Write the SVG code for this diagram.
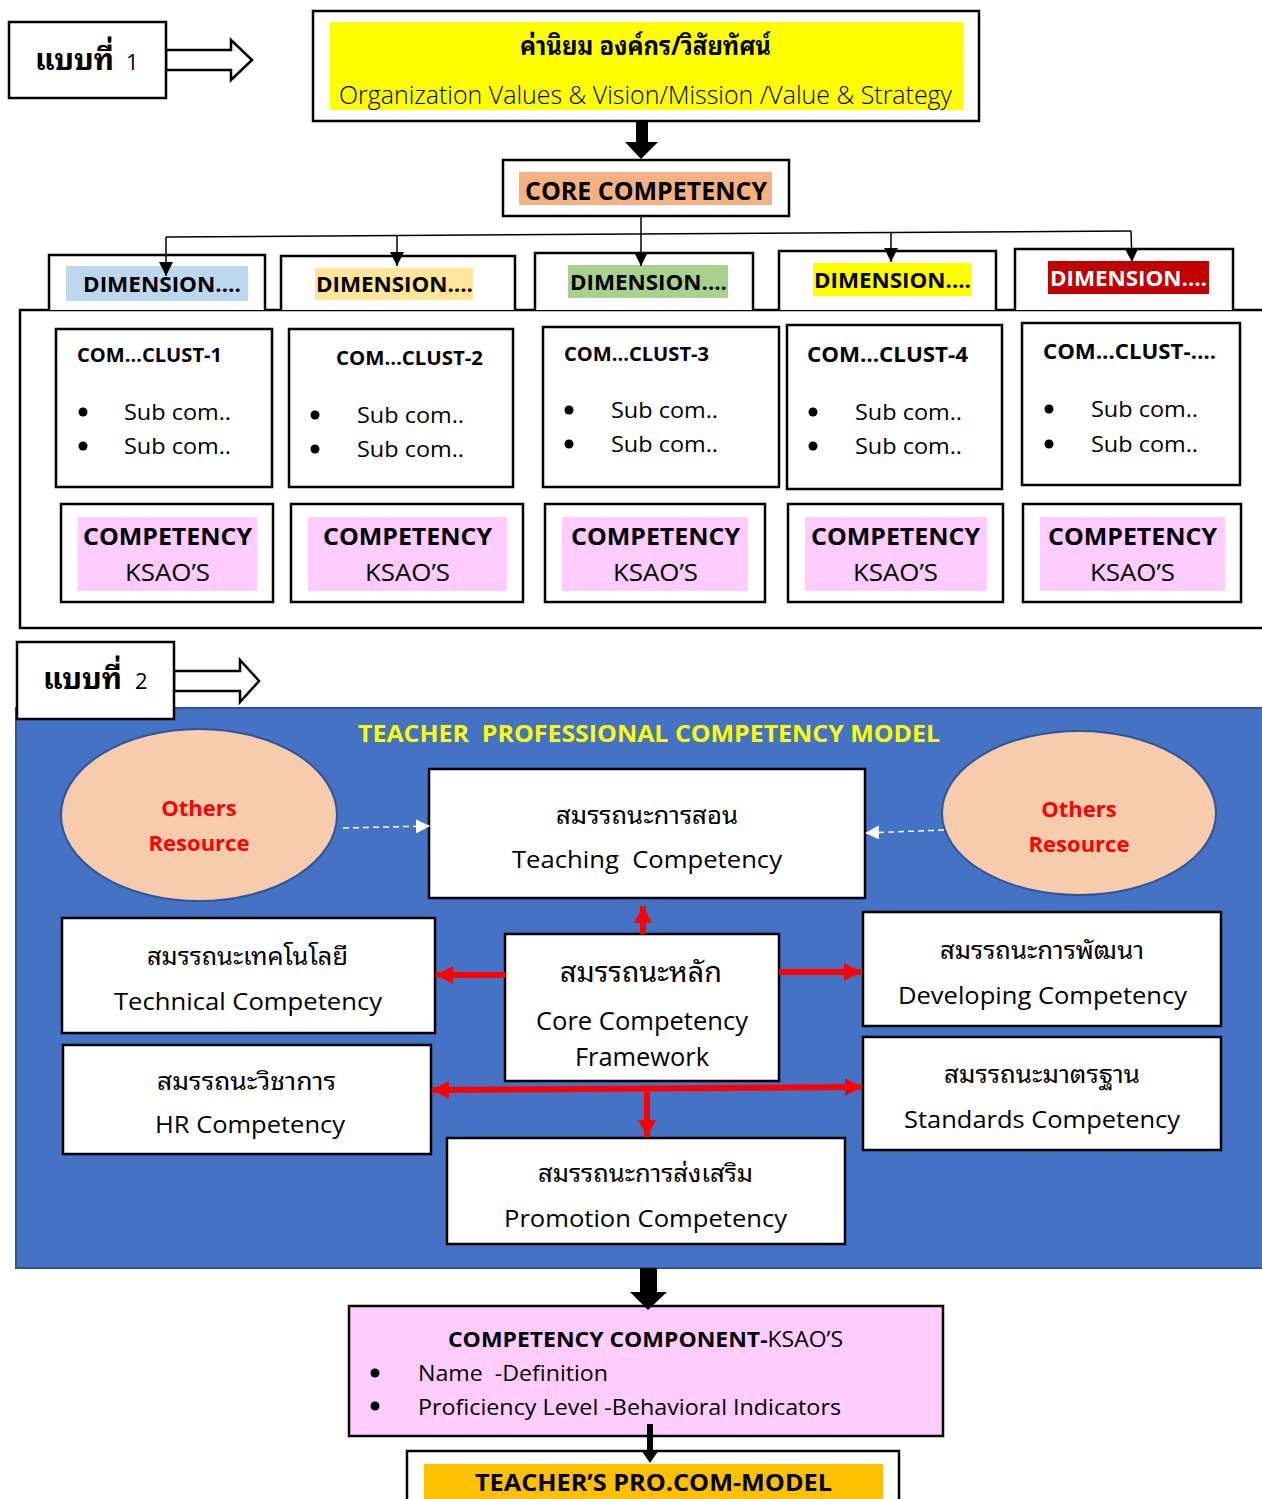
<svg xmlns="http://www.w3.org/2000/svg" width="1262" height="1499" viewBox="0 0 1262 1499">
<style>
.box{fill:#fff;stroke:#000;stroke-width:2.5}
.en{font-family:"Open Sans","Noto Sans","Liberation Sans",sans-serif;fill:#000}
.b{font-weight:bold}
.th{font-family:"Noto Sans Thai Looped","Loma","Tahoma","Noto Sans Thai","Noto Sans","DejaVu Sans",sans-serif;fill:#000}
.pre{white-space:pre}
.thin{stroke:#000;stroke-width:1.5;fill:none}
.red{stroke:#ff0000;stroke-width:6;fill:none}
.dash{stroke:#fff;stroke-width:1.5;stroke-dasharray:6,4;fill:none}
.ell{fill:#F8CBAD;stroke:#2F5597;stroke-width:2}
.oth{font-family:"Open Sans","Noto Sans",sans-serif;font-weight:bold;fill:#ff0000;font-size:22px}
</style>
<defs>
<marker id="ab2" viewBox="0 0 10 10" refX="10" refY="5" markerWidth="14" markerHeight="14" markerUnits="userSpaceOnUse" orient="auto"><path d="M0,0L10,5L0,10z" fill="#000"/></marker>
<marker id="ar" viewBox="0 0 10 10" refX="10" refY="5" markerWidth="17" markerHeight="18" markerUnits="userSpaceOnUse" orient="auto-start-reverse" preserveAspectRatio="none"><path d="M0,0L10,5L0,10z" fill="#ff0000"/></marker>
<marker id="aw" viewBox="0 0 10 10" refX="10" refY="5" markerWidth="14" markerHeight="14" markerUnits="userSpaceOnUse" orient="auto"><path d="M0,0L10,5L0,10z" fill="#fff"/></marker>
</defs>

<!-- Section 1 -->
<g id="label1">
<polygon points="166,50 231,50 231,40 252,60 231,80 231,70 166,70" fill="#fff" stroke="#000" stroke-width="2.5"/>
<rect class="box" x="9" y="22" width="157" height="76"/>
<text class="th b" x="35" y="70" font-size="30" textLength="79" lengthAdjust="spacingAndGlyphs">แบบที่</text>
<text class="en" x="126" y="70" font-size="22">1</text>
</g>

<g id="org">
<rect class="box" x="313" y="11" width="666" height="110"/>
<rect x="330" y="22" width="633" height="88" fill="#ffff00"/>
<text class="th b" x="520" y="55" font-size="26" textLength="251" lengthAdjust="spacingAndGlyphs">ค่านิยม องค์กร/วิสัยทัศน์</text>
<text class="en" x="339" y="104" font-size="25" font-weight="300" textLength="613" lengthAdjust="spacingAndGlyphs">Organization Values &amp; Vision/Mission /Value &amp; Strategy</text>
</g>

<g id="core">
<rect class="box" x="503" y="160" width="286" height="56"/>
<rect x="519" y="172" width="253" height="33" fill="#F4B183"/>
<text class="en b" x="525" y="200" font-size="25" textLength="242" lengthAdjust="spacingAndGlyphs">CORE COMPETENCY</text>
</g>

<g id="container1">
<rect x="20" y="310" width="1260" height="318" fill="#fff" stroke="#000" stroke-width="2.5"/>
</g>

<g id="dim1">
<path class="box" d="M49,310V255H265V310"/>
<rect x="66" y="266" width="182" height="35" fill="#BDD7EE"/>
<text class="en b" x="83" y="292" font-size="21" textLength="158" lengthAdjust="spacingAndGlyphs">DIMENSION….</text>
</g>
<g id="dim2">
<path class="box" d="M281,310V256H515V310"/>
<rect x="315" y="268" width="158" height="32" fill="#FFE699"/>
<text class="en b" x="316" y="292" font-size="21" textLength="157" lengthAdjust="spacingAndGlyphs">DIMENSION….</text>
</g>
<g id="dim3">
<path class="box" d="M535,310V253H753V310"/>
<rect x="568" y="265" width="160" height="33" fill="#A9D18E"/>
<text class="en b" x="570" y="290" font-size="21" textLength="157" lengthAdjust="spacingAndGlyphs">DIMENSION….</text>
</g>
<g id="dim4">
<path class="box" d="M779,310V251H996V310"/>
<rect x="813" y="263" width="158" height="33" fill="#ffff00"/>
<text class="en b" x="814" y="288" font-size="21" textLength="157" lengthAdjust="spacingAndGlyphs">DIMENSION….</text>
</g>
<g id="dim5">
<path class="box" d="M1015,310V249H1233V310"/>
<rect x="1048" y="261" width="161" height="33" fill="#C00000"/>
<text class="en b" x="1050" y="286" font-size="21" style="fill:#fff" textLength="157" lengthAdjust="spacingAndGlyphs">DIMENSION….</text>
</g>

<g id="clust1">
<rect class="box" x="56" y="329" width="216" height="158"/>
<text class="en b" x="77" y="362" font-size="20" textLength="145" lengthAdjust="spacingAndGlyphs">COM…CLUST-1</text>
<circle cx="83" cy="412" r="4.5"/><circle cx="83" cy="446" r="4.5"/>
<text class="en" x="124" y="420" font-size="22" textLength="107" lengthAdjust="spacingAndGlyphs">Sub com..</text>
<text class="en" x="124" y="454" font-size="22" textLength="107" lengthAdjust="spacingAndGlyphs">Sub com..</text>
</g>
<g id="clust2">
<rect class="box" x="289" y="329" width="224" height="158"/>
<text class="en b" x="336" y="365" font-size="20" textLength="147" lengthAdjust="spacingAndGlyphs">COM…CLUST-2</text>
<circle cx="315" cy="415" r="4.5"/><circle cx="315" cy="449" r="4.5"/>
<text class="en" x="357" y="423" font-size="22" textLength="107" lengthAdjust="spacingAndGlyphs">Sub com..</text>
<text class="en" x="357" y="457" font-size="22" textLength="107" lengthAdjust="spacingAndGlyphs">Sub com..</text>
</g>
<g id="clust3">
<rect class="box" x="543" y="327" width="236" height="160"/>
<text class="en b" x="564" y="361" font-size="20" textLength="145" lengthAdjust="spacingAndGlyphs">COM…CLUST-3</text>
<circle cx="569" cy="410" r="4.5"/><circle cx="569" cy="444" r="4.5"/>
<text class="en" x="611" y="418" font-size="22" textLength="107" lengthAdjust="spacingAndGlyphs">Sub com..</text>
<text class="en" x="611" y="452" font-size="22" textLength="107" lengthAdjust="spacingAndGlyphs">Sub com..</text>
</g>
<g id="clust4">
<rect class="box" x="787" y="325" width="215" height="164"/>
<text class="en b" x="807" y="362" font-size="21" textLength="161" lengthAdjust="spacingAndGlyphs">COM…CLUST-4</text>
<circle cx="813" cy="412" r="4.5"/><circle cx="813" cy="446" r="4.5"/>
<text class="en" x="855" y="420" font-size="22" textLength="107" lengthAdjust="spacingAndGlyphs">Sub com..</text>
<text class="en" x="855" y="454" font-size="22" textLength="107" lengthAdjust="spacingAndGlyphs">Sub com..</text>
</g>
<g id="clust5">
<rect class="box" x="1022" y="323" width="218" height="162"/>
<text class="en b" x="1043" y="359" font-size="21" textLength="173" lengthAdjust="spacingAndGlyphs">COM…CLUST-….</text>
<circle cx="1049" cy="409" r="4.5"/><circle cx="1049" cy="444" r="4.5"/>
<text class="en" x="1091" y="417" font-size="22" textLength="107" lengthAdjust="spacingAndGlyphs">Sub com..</text>
<text class="en" x="1091" y="452" font-size="22" textLength="107" lengthAdjust="spacingAndGlyphs">Sub com..</text>
</g>

<g id="comp1">
<rect class="box" x="61" y="504" width="212" height="98"/>
<rect x="78" y="517" width="179" height="74" fill="#FFCCFF"/>
<text class="en b" x="83" y="545" font-size="24" textLength="169" lengthAdjust="spacingAndGlyphs">COMPETENCY</text>
<text class="en" x="125" y="581" font-size="24" textLength="85" lengthAdjust="spacingAndGlyphs">KSAO’S</text>
</g>
<g id="comp2">
<rect class="box" x="291" y="504" width="232" height="98"/>
<rect x="308" y="517" width="199" height="74" fill="#FFCCFF"/>
<text class="en b" x="323" y="545" font-size="24" textLength="169" lengthAdjust="spacingAndGlyphs">COMPETENCY</text>
<text class="en" x="365" y="581" font-size="24" textLength="85" lengthAdjust="spacingAndGlyphs">KSAO’S</text>
</g>
<g id="comp3">
<rect class="box" x="545" y="504" width="220" height="98"/>
<rect x="562" y="517" width="186" height="74" fill="#FFCCFF"/>
<text class="en b" x="571" y="545" font-size="24" textLength="169" lengthAdjust="spacingAndGlyphs">COMPETENCY</text>
<text class="en" x="613" y="581" font-size="24" textLength="85" lengthAdjust="spacingAndGlyphs">KSAO’S</text>
</g>
<g id="comp4">
<rect class="box" x="788" y="504" width="215" height="98"/>
<rect x="805" y="517" width="182" height="74" fill="#FFCCFF"/>
<text class="en b" x="811" y="545" font-size="24" textLength="169" lengthAdjust="spacingAndGlyphs">COMPETENCY</text>
<text class="en" x="853" y="581" font-size="24" textLength="85" lengthAdjust="spacingAndGlyphs">KSAO’S</text>
</g>
<g id="comp5">
<rect class="box" x="1023" y="504" width="218" height="98"/>
<rect x="1040" y="517" width="185" height="74" fill="#FFCCFF"/>
<text class="en b" x="1048" y="545" font-size="24" textLength="169" lengthAdjust="spacingAndGlyphs">COMPETENCY</text>
<text class="en" x="1090" y="581" font-size="24" textLength="85" lengthAdjust="spacingAndGlyphs">KSAO’S</text>
</g>

<!-- Section 2 -->
<g id="model2">
<rect x="16" y="708" width="1260" height="560" fill="#4472C4" stroke="#2F5597" stroke-width="2"/>
<text class="en b pre" x="358" y="742" font-size="24" style="fill:#ffff00" textLength="582" lengthAdjust="spacingAndGlyphs">TEACHER  PROFESSIONAL COMPETENCY MODEL</text>
</g>

<g id="label2">
<polygon points="174,671 240,671 240,660 259,681 240,702 240,691 174,691" fill="#fff" stroke="#000" stroke-width="2.5"/>
<rect class="box" x="17" y="642" width="157" height="77"/>
<text class="th b" x="43" y="689" font-size="30" textLength="79" lengthAdjust="spacingAndGlyphs">แบบที่</text>
<text class="en" x="135" y="689" font-size="22">2</text>
</g>

<g id="others-left">
<ellipse class="ell" cx="199" cy="815" rx="138" ry="86"/>
<text class="oth" x="199" y="816" text-anchor="middle">Others</text>
<text class="oth" x="199" y="851" text-anchor="middle">Resource</text>
</g>
<g id="others-right">
<ellipse class="ell" cx="1079" cy="813" rx="137" ry="82"/>
<text class="oth" x="1079" y="817" text-anchor="middle">Others</text>
<text class="oth" x="1079" y="852" text-anchor="middle">Resource</text>
</g>

<g id="teaching">
<rect class="box" x="429" y="769" width="436" height="129"/>
<text class="th" x="556" y="824" font-size="24" textLength="182" lengthAdjust="spacingAndGlyphs">สมรรถนะการสอน</text>
<text class="en pre" x="512" y="868" font-size="24" textLength="270" lengthAdjust="spacingAndGlyphs">Teaching  Competency</text>
</g>
<g id="technical">
<rect class="box" x="62" y="918" width="373" height="115"/>
<text class="th" x="147" y="965" font-size="24" textLength="201" lengthAdjust="spacingAndGlyphs">สมรรถนะเทคโนโลยี</text>
<text class="en" x="114" y="1010" font-size="24" textLength="268" lengthAdjust="spacingAndGlyphs">Technical Competency</text>
</g>
<g id="hr">
<rect class="box" x="63" y="1045" width="368" height="109"/>
<text class="th" x="157" y="1090" font-size="24" textLength="179" lengthAdjust="spacingAndGlyphs">สมรรถนะวิชาการ</text>
<text class="en" x="155" y="1133" font-size="24" textLength="190" lengthAdjust="spacingAndGlyphs">HR Competency</text>
</g>
<g id="coreframe">
<rect class="box" x="505" y="934" width="274" height="147"/>
<text class="th" x="560" y="982" font-size="28" textLength="162" lengthAdjust="spacingAndGlyphs">สมรรถนะหลัก</text>
<text class="en" x="536" y="1030" font-size="25" textLength="212" lengthAdjust="spacingAndGlyphs">Core Competency</text>
<text class="en" x="575" y="1066" font-size="25" textLength="134" lengthAdjust="spacingAndGlyphs">Framework</text>
</g>
<g id="developing">
<rect class="box" x="863" y="912" width="358" height="114"/>
<text class="th" x="940" y="959" font-size="24" textLength="204" lengthAdjust="spacingAndGlyphs">สมรรถนะการพัฒนา</text>
<text class="en" x="898" y="1004" font-size="24" textLength="289" lengthAdjust="spacingAndGlyphs">Developing Competency</text>
</g>
<g id="standards">
<rect class="box" x="863" y="1037" width="358" height="113"/>
<text class="th" x="944" y="1083" font-size="24" textLength="196" lengthAdjust="spacingAndGlyphs">สมรรถนะมาตรฐาน</text>
<text class="en" x="904" y="1128" font-size="24" textLength="276" lengthAdjust="spacingAndGlyphs">Standards Competency</text>
</g>
<g id="promotion">
<rect class="box" x="447" y="1138" width="398" height="106"/>
<text class="th" x="538" y="1182" font-size="24" textLength="215" lengthAdjust="spacingAndGlyphs">สมรรถนะการส่งเสริม</text>
<text class="en" x="504" y="1227" font-size="24" textLength="283" lengthAdjust="spacingAndGlyphs">Promotion Competency</text>
</g>

<g id="component">
<rect x="349" y="1306" width="594" height="130" fill="#FFCCFF" stroke="#000" stroke-width="2.5"/>
<text class="en" x="448" y="1347" font-size="22" textLength="395" lengthAdjust="spacingAndGlyphs"><tspan font-weight="bold">COMPETENCY COMPONENT-</tspan>KSAO’S</text>
<circle cx="375" cy="1373" r="4.5"/><circle cx="375" cy="1406" r="4.5"/>
<text class="en pre" x="418" y="1381" font-size="22" textLength="190" lengthAdjust="spacingAndGlyphs">Name  -Definition</text>
<text class="en" x="418" y="1415" font-size="22" textLength="423" lengthAdjust="spacingAndGlyphs">Proficiency Level -Behavioral Indicators</text>
</g>

<g id="final">
<rect class="box" x="407" y="1451" width="492" height="70"/>
<rect x="424" y="1464" width="459" height="40" fill="#FFC000"/>
<text class="en b" x="475" y="1491" font-size="24" textLength="357" lengthAdjust="spacingAndGlyphs">TEACHER’S PRO.COM-MODEL</text>
</g>

<!-- Connectors -->
<g id="connectors">
<polygon points="636,121 648,121 648,142 658,142 641,159 625,142 636,142" fill="#000"/>
<line class="thin" x1="166" y1="237" x2="1131" y2="231"/>
<line class="thin" x1="641" y1="216" x2="641" y2="266" marker-end="url(#ab2)"/>
<line class="thin" x1="166" y1="237" x2="166" y2="276" marker-end="url(#ab2)"/>
<line class="thin" x1="397" y1="236" x2="397" y2="266" marker-end="url(#ab2)"/>
<line class="thin" x1="891" y1="233" x2="891" y2="262" marker-end="url(#ab2)"/>
<line class="thin" x1="1131" y1="231" x2="1132" y2="262" marker-end="url(#ab2)"/>

<line class="dash" x1="343" y1="828" x2="430" y2="826" marker-end="url(#aw)"/>
<line class="dash" x1="944" y1="830" x2="865" y2="833" marker-end="url(#aw)"/>

<line class="red" x1="643" y1="934" x2="643" y2="906" marker-end="url(#ar)"/>
<line class="red" x1="505" y1="975" x2="436" y2="975" marker-end="url(#ar)"/>
<line class="red" x1="779" y1="972" x2="861" y2="972" marker-end="url(#ar)"/>
<line class="red" x1="432" y1="1090" x2="862" y2="1087" marker-start="url(#ar)" marker-end="url(#ar)"/>
<line class="red" x1="647" y1="1088" x2="647" y2="1137" marker-end="url(#ar)"/>

<polygon points="640,1268 657,1268 657,1292 667,1292 648,1310 630,1292 640,1292" fill="#000"/>
<polygon points="647,1424 653,1424 653,1450 659,1450 650,1463 641,1450 647,1450" fill="#000"/>
</g>
</svg>
